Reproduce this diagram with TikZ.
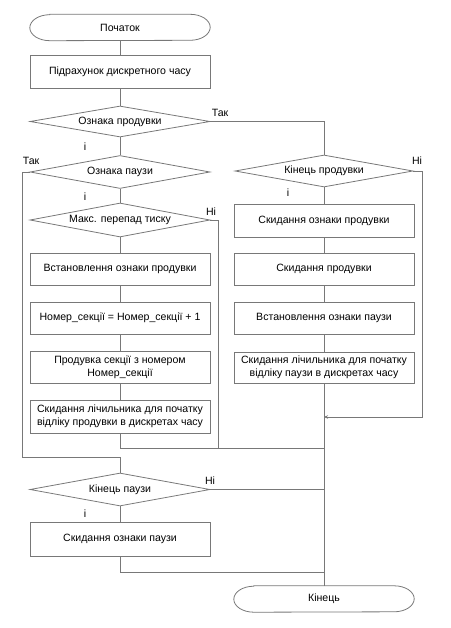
\documentclass[tikz,border=0pt]{standalone}
\usepackage{fontspec}
\setmainfont{Liberation Sans}
\usetikzlibrary{shapes.geometric,arrows.meta,calc}
\definecolor{ln}{RGB}{120,120,120}
\tikzset{
  every node/.style={font=\fontsize{10.6}{13}\selectfont, text=black},
  conn/.style={draw=ln, line width=0.8bp},
  procbox/.style={draw=ln, line width=0.8bp, rectangle, minimum width=180bp, minimum height=33bp, inner sep=0pt, align=center},
  decbox/.style={draw=ln, line width=0.8bp, diamond, aspect=5.8, inner sep=0pt, minimum width=180bp, minimum height=33bp},
  termbox/.style={rectangle, minimum width=180bp, minimum height=26bp, inner sep=0pt},
  lbl/.style={inner sep=0pt}
}
\newcommand{\termshape}[1]{%
  \draw[ln, line width=0.8bp] ($(#1.north west)+(20,0)$) -- ($(#1.north east)+(-20,0)$)
    arc[start angle=90, end angle=-90, x radius=20bp, y radius=13bp]
    -- ($(#1.south west)+(20,0)$)
    arc[start angle=270, end angle=90, x radius=20bp, y radius=13bp] -- cycle;}
\begin{document}
\begin{tikzpicture}[x=1bp,y=-1bp]
\useasboundingbox (0,0) rectangle (451,628);
% left column
\node[termbox] (start) at (120,27.5) {Початок};
\node[procbox] (b1) at (120,71.5) {Підрахунок дискретного часу};
\node[decbox, minimum height=31bp] (d1) at (120,121.5) {Ознака продувки};
\node[decbox] (d2) at (120,172) {Ознака паузи};
\node[decbox, minimum height=34bp] (d3) at (120,220) {Макс. перепад тиску};
\node[procbox, minimum height=32bp] (b2) at (120,269) {Встановлення ознаки продувки};
\node[procbox, minimum height=32bp] (b3) at (120,318) {Номер\_секції = Номер\_секції + 1};
\node[procbox, minimum height=32bp] (b4) at (120,367) {Продувка секції з номером\\Номер\_секції};
\node[procbox] (b5) at (120,416.5) {Скидання лічильника для початку\\відліку продувки в дискретах часу};
\node[decbox] (d5) at (120,489.5) {Кінець паузи};
\node[procbox, minimum height=34bp] (b6) at (120,539) {Скидання ознаки паузи};
% right column
\node[decbox, minimum width=178bp, minimum height=32bp] (d4) at (324,171) {Кінець продувки};
\node[procbox] (r1) at (324,220.5) {Скидання ознаки продувки};
\node[procbox, minimum height=32bp] (r2) at (324,269) {Скидання продувки};
\node[procbox, minimum height=32bp] (r3) at (324,318) {Встановлення ознаки паузи};
\node[procbox, minimum height=31bp] (r4) at (324,367.5) {Скидання лічильника для початку\\відліку паузи в дискретах часу};
\node[termbox] (end) at (324,599) {Кінець};
\termshape{start}
\termshape{end}
% helper coordinates
\coordinate (l1) at (22,172);
\coordinate (l2) at (22,457);
\coordinate (l3) at (120,457);
\coordinate (m1) at (218,220);
\coordinate (m2) at (218,448);
\coordinate (j1) at (324,448);
\coordinate (n1) at (422,171);
\coordinate (n2) at (422,417);
\coordinate (j2) at (324,417);
\coordinate (j3) at (324,489.5);
\coordinate (p1) at (120,572);
\coordinate (j4) at (324,572);
% connectors
\draw[conn] (start) -- (b1);
\draw[conn] (b1) -- (d1);
\draw[conn] (d1) -- (d2);
\draw[conn] (d1.east) -| (d4.north);
\draw[conn] (d2) -- (d3);
\draw[conn] (d3) -- (b2);
\draw[conn] (b2) -- (b3);
\draw[conn] (b3) -- (b4);
\draw[conn] (b4) -- (b5);
\draw[conn] (d2.west) -- (l1) -- (l2) -- (l3) -- (d5.north);
\draw[conn] (d3.east) -- (m1) -- (m2);
\draw[conn] (b5.south) |- (j1);
\draw[conn] (d4) -- (r1);
\draw[conn] (r1) -- (r2);
\draw[conn] (r2) -- (r3);
\draw[conn] (r3) -- (r4);
\draw[conn] (r4.south) -- (end.north);
\draw[conn, -{Stealth[length=4bp,width=3.5bp]}] (d4.east) -- (n1) -- (n2) -- (j2);
\draw[conn] (d5.east) -- (j3);
\draw[conn] (d5) -- (b6);
\draw[conn] (b6.south) -- (p1) -- (j4);
% labels
\node[lbl] (t1) at (220,113) {Так};
\node[lbl] (t2) at (31,161) {Так};
\node[lbl] (i1) at (85,147) {і};
\node[lbl] (i2) at (85,197) {і};
\node[lbl] (n3) at (211,212) {Ні};
\node[lbl] (n4) at (417,161) {Ні};
\node[lbl] (i3) at (288,193) {і};
\node[lbl] (n5) at (210,481) {Ні};
\node[lbl] (i4) at (85,514) {і};
\end{tikzpicture}
\end{document}
